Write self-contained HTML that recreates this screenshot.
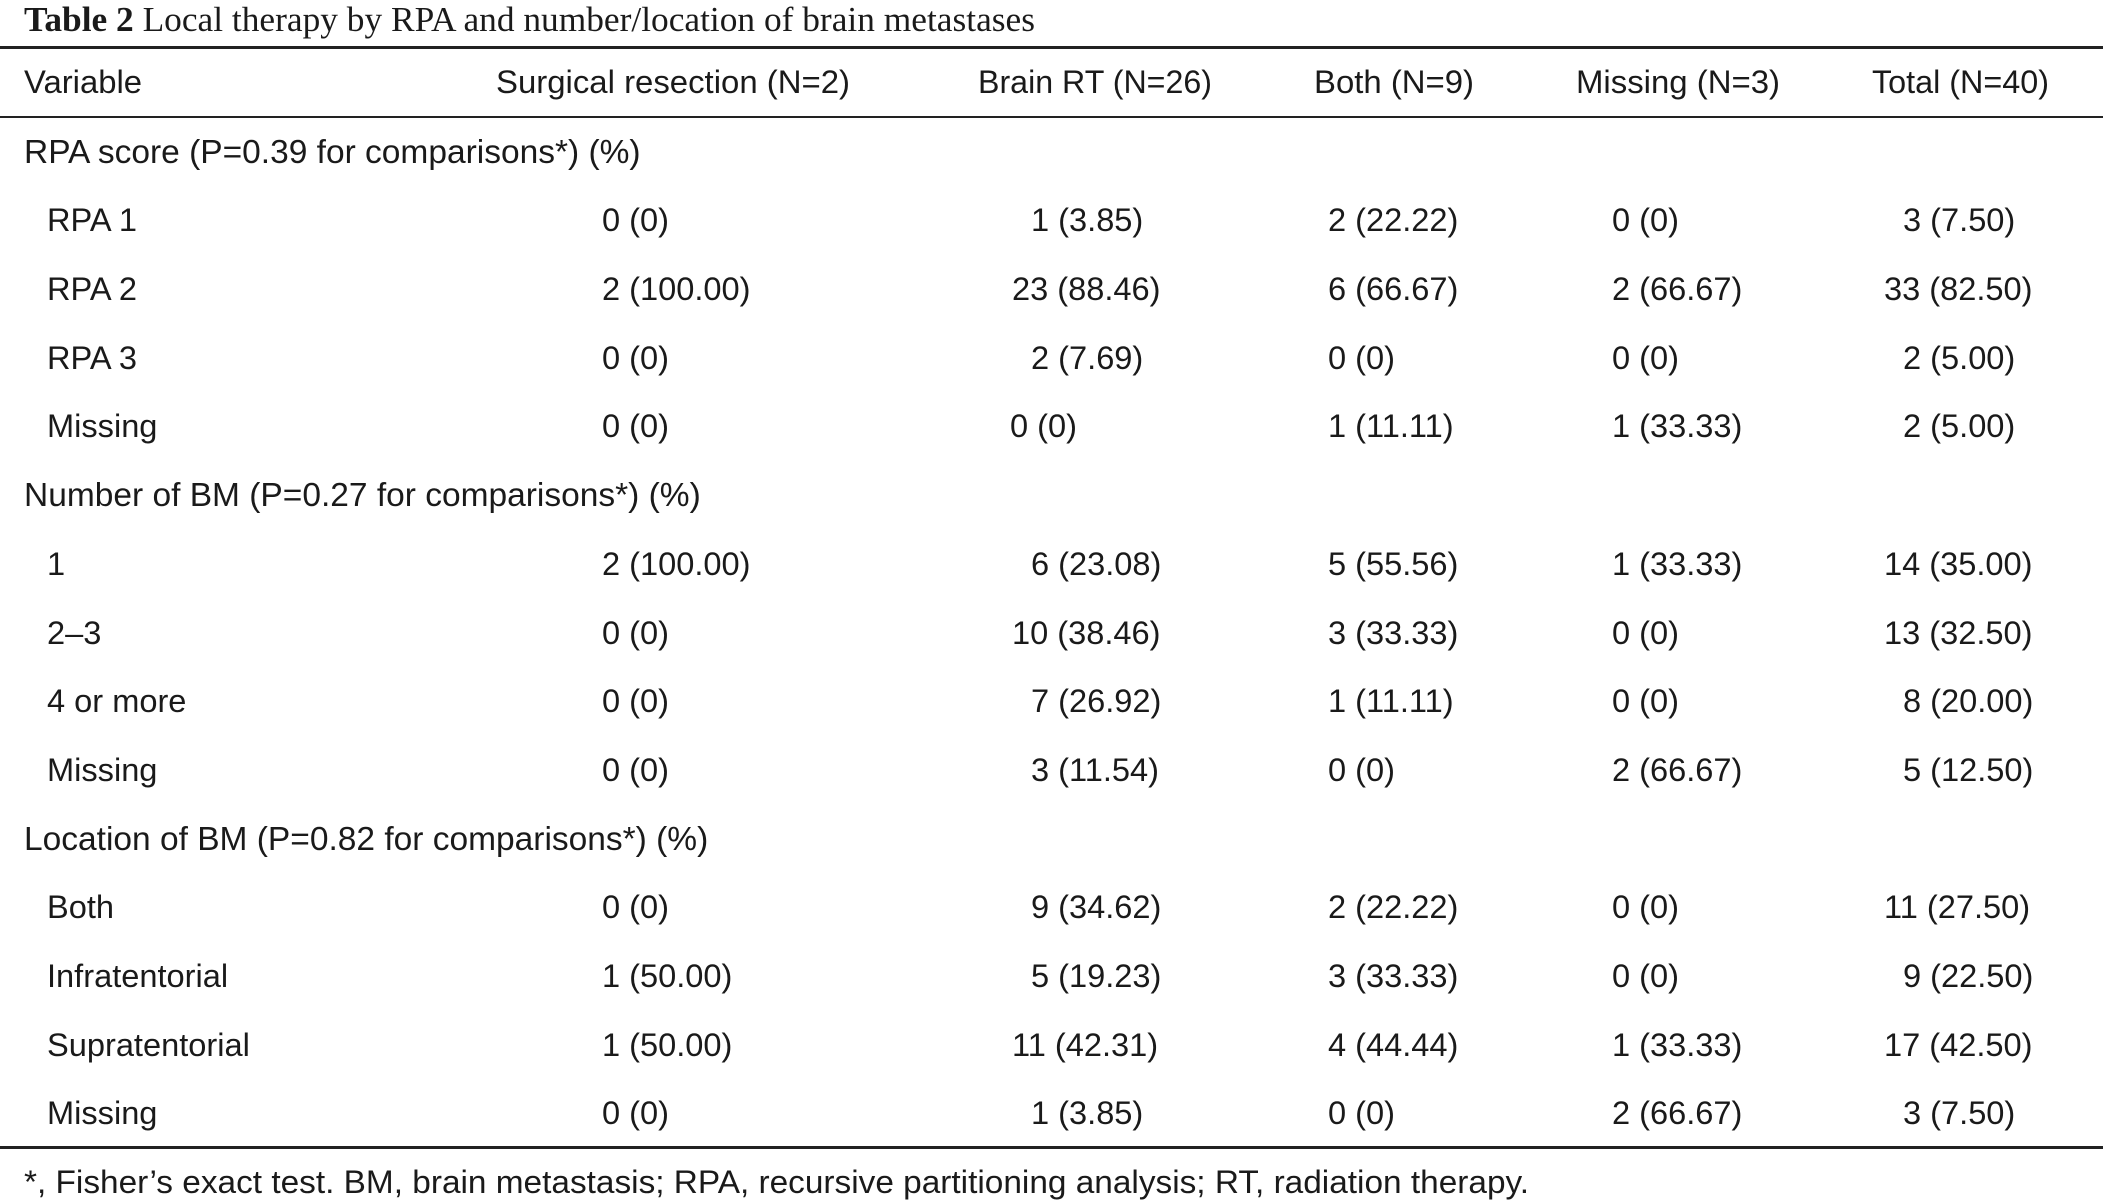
<!DOCTYPE html>
<html><head><meta charset="utf-8">
<style>
html,body{margin:0;padding:0;background:#fff;}
#page{position:relative;width:2103px;height:1201px;overflow:hidden;background:#fff;font-family:"Liberation Sans",Arial,sans-serif;color:#1a1a1a;}
.t{position:absolute;white-space:nowrap;font-size:32.6px;line-height:1;transform-origin:0 50%;}
.rule{position:absolute;left:0;width:2103px;background:#222;}
#title{position:absolute;left:24px;top:0px;font-family:"Liberation Serif",serif;font-size:35px;white-space:nowrap;transform-origin:0 0;}
</style></head>
<body>
<div id="page">
  <div id="title"><b>Table 2</b> Local therapy by RPA and number/location of brain metastases</div>
  <div class="rule" style="top:46px;height:3px"></div>
  <div class="rule" style="top:116px;height:2px"></div>
  <div class="rule" style="top:1146px;height:3px"></div>
  <div id="foot" class="t" style="left:24px;top:1166px">*, Fisher’s exact test. BM, brain metastasis; RPA, recursive partitioning analysis; RT, radiation therapy.</div>
</div>
<script>
const headers=["Variable","Surgical resection (N=2)","Brain RT (N=26)","Both (N=9)","Missing (N=3)","Total (N=40)"];
const headerX=[24,496,978,1314,1576,1872];
const headerW=[118,354,234,160,204,177];
const rows=[
["RPA score (P=0.39 for comparisons*) (%)"],
["RPA 1","0 (0)","1 (3.85)","2 (22.22)","0 (0)","3 (7.50)"],
["RPA 2","2 (100.00)","23 (88.46)","6 (66.67)","2 (66.67)","33 (82.50)"],
["RPA 3","0 (0)","2 (7.69)","0 (0)","0 (0)","2 (5.00)"],
["Missing","0 (0)","0 (0)","1 (11.11)","1 (33.33)","2 (5.00)"],
["Number of BM (P=0.27 for comparisons*) (%)"],
["1","2 (100.00)","6 (23.08)","5 (55.56)","1 (33.33)","14 (35.00)"],
["2–3","0 (0)","10 (38.46)","3 (33.33)","0 (0)","13 (32.50)"],
["4 or more","0 (0)","7 (26.92)","1 (11.11)","0 (0)","8 (20.00)"],
["Missing","0 (0)","3 (11.54)","0 (0)","2 (66.67)","5 (12.50)"],
["Location of BM (P=0.82 for comparisons*) (%)"],
["Both","0 (0)","9 (34.62)","2 (22.22)","0 (0)","11 (27.50)"],
["Infratentorial","1 (50.00)","5 (19.23)","3 (33.33)","0 (0)","9 (22.50)"],
["Supratentorial","1 (50.00)","11 (42.31)","4 (44.44)","1 (33.33)","17 (42.50)"],
["Missing","0 (0)","1 (3.85)","0 (0)","2 (66.67)","3 (7.50)"]
];
const page=document.getElementById('page');
function fit(el,w){const r=el.getBoundingClientRect().width;if(r>0)el.style.transform='scaleX('+(w/r)+')';}
function addText(txt,x,cy,name){
  const d=document.createElement('div');
  d.className='t';d.textContent=txt;
  
  
  d.style.left=x+'px';d.style.top=(cy-16)+'px';
  page.appendChild(d);return d;
}
headers.forEach((h,i)=>{const d=addText(h,headerX[i],82,'header-'+i);fit(d,headerW[i]);});
function colX(c,txt){
  const cnt=txt.split(' ')[0];
  const two=cnt.length>1;
  if(c===1)return 602;
  if(c===2){if(txt==="0 (0)")return 1010;return two?1012:1031;}
  if(c===3)return 1328;
  if(c===4)return 1612;
  if(c===5)return two?1884:1903;
}
rows.forEach((r,i)=>{
  const cy=151.6+i*68.7;
  if(r.length===1){const d=addText(r[0],24,cy,'section-label');d.style.fontSize='33.5px';return;}
  addText(r[0],47,cy,'row-label');
  for(let c=1;c<6;c++)addText(r[c],colX(c,r[c]),cy,'cell-value');
});
fit(document.getElementById('title'),1011);
fit(document.getElementById('foot'),1505);
</script>
</body></html>
